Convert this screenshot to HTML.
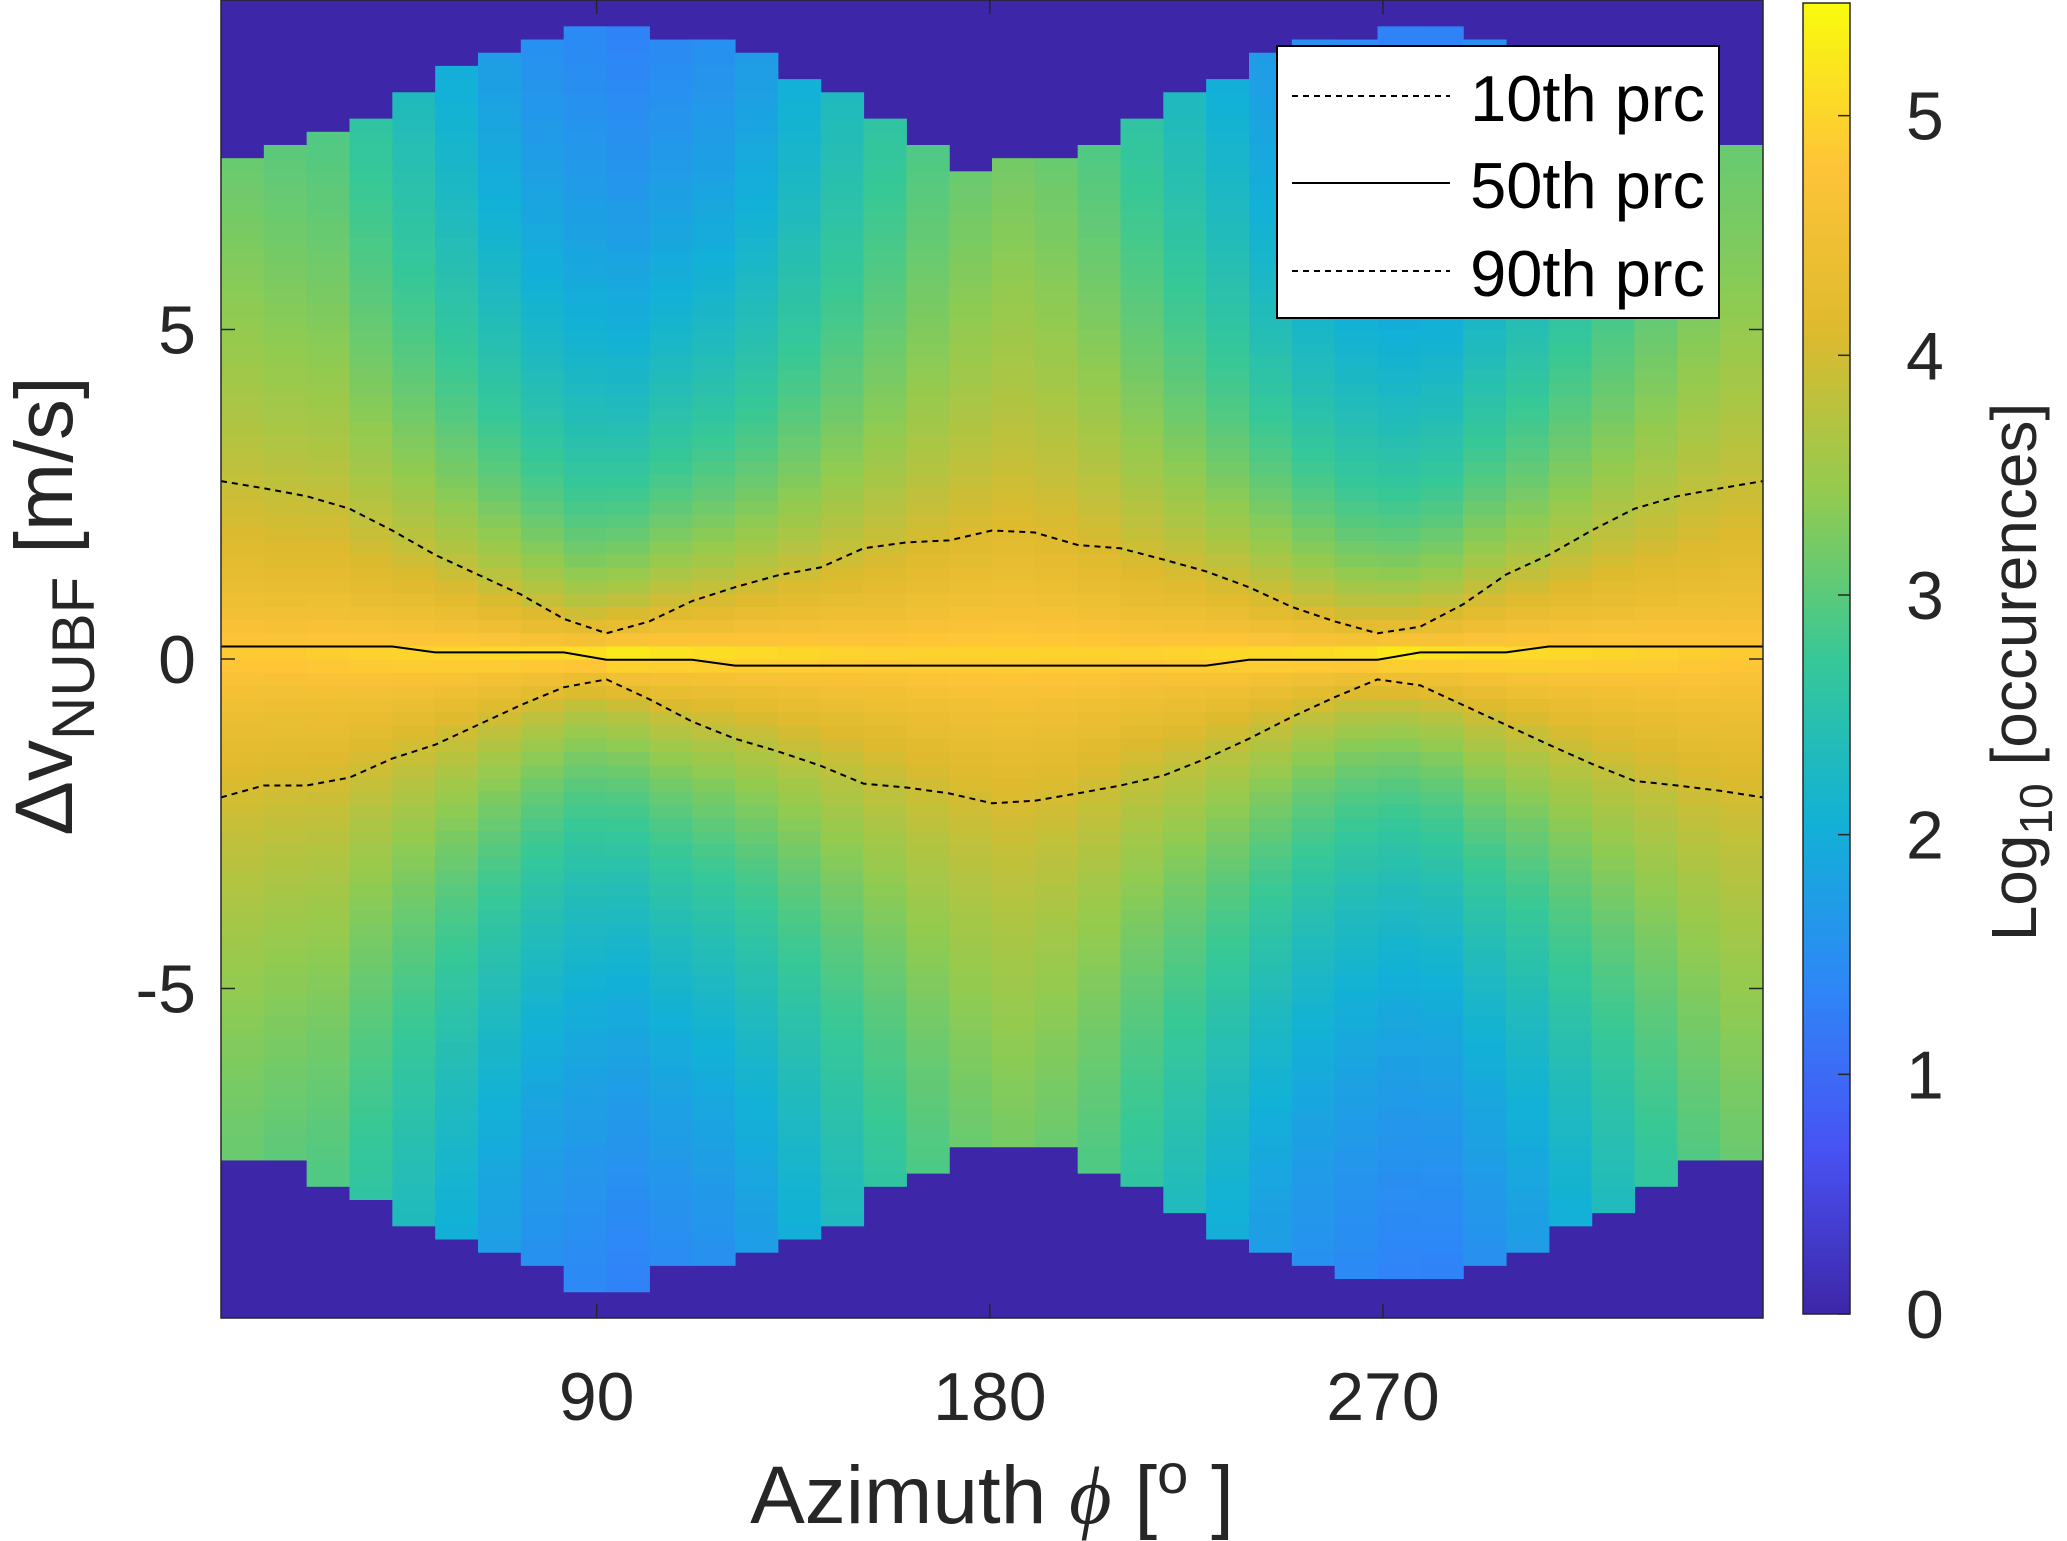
<!DOCTYPE html>
<html><head><meta charset="utf-8"><style>
html,body{margin:0;padding:0;background:#fff;}
svg{display:block;font-family:"Liberation Sans",Arial,sans-serif;}
</style></head><body>
<svg id="chart" width="2067" height="1541" viewBox="0 0 2067 1541" xmlns="http://www.w3.org/2000/svg">
<defs><linearGradient id="cbgrad" x1="0" y1="1" x2="0" y2="0"></linearGradient>
<clipPath id="plotclip"><rect x="221" y="0" width="1542" height="1318"/></clipPath></defs>
<g id="cells" clip-path="url(#plotclip)"></g>
<g id="lines" clip-path="url(#plotclip)"></g>
<rect x="221" y="0" width="1542" height="1318" fill="none" stroke="#262626" stroke-width="1.5"/>
<g id="axes"></g>
<g>
<rect x="1277" y="46" width="442" height="272" fill="#fff" stroke="#000" stroke-width="2"/>
<line x1="1292" y1="96" x2="1450" y2="96" stroke="#000" stroke-width="2" stroke-dasharray="6,5"/>
<text x="1705" y="121" font-size="65" text-anchor="end" fill="#000">10th prc</text>
<line x1="1292" y1="183" x2="1450" y2="183" stroke="#000" stroke-width="2"/>
<text x="1705" y="208" font-size="65" text-anchor="end" fill="#000">50th prc</text>
<line x1="1292" y1="271" x2="1450" y2="271" stroke="#000" stroke-width="2" stroke-dasharray="6,5"/>
<text x="1705" y="296" font-size="65" text-anchor="end" fill="#000">90th prc</text>
</g>
<rect x="1803" y="3" width="47" height="1311" fill="url(#cbgrad)" stroke="#262626" stroke-width="1.5"/>
<g id="cbaxis"></g>
<text x="992" y="1523" font-size="82" text-anchor="middle" fill="#262626">Azimuth <tspan font-family="Liberation Serif,serif" font-style="italic">ϕ</tspan> [<tspan font-size="56" dy="-30">o</tspan><tspan dy="30"> ]</tspan></text>
<text transform="translate(72,606) rotate(-90)" font-size="82" text-anchor="middle" fill="#262626">Δv<tspan font-size="60" dy="22">NUBF</tspan><tspan dy="-22"> [m/s]</tspan></text>
<text transform="translate(2036,672) rotate(-90)" font-size="64" text-anchor="middle" fill="#262626">Log<tspan font-size="46" dy="16">10</tspan><tspan dy="-16"> [occurences]</tspan></text>
</svg>
<script>
// ---- data ----
const upperExtent = [7.62,7.76,8.09,8.29,8.69,8.91,9.28,9.37,9.55,9.58,9.48,9.33,9.11,8.88,8.51,8.18,7.76,7.5,7.54,7.65,7.88,8.18,8.51,8.8,9.18,9.4,9.48,9.58,9.52,9.33,9.08,8.8,8.5,8.2,7.9,7.76];
const lowerExtent = [-7.51,-7.7,-8.0,-8.21,-8.6,-8.9,-9.1,-9.3,-9.52,-9.52,-9.3,-9.22,-9.08,-8.8,-8.55,-8.1,-7.73,-7.47,-7.44,-7.4,-7.76,-8.1,-8.48,-8.8,-9.08,-9.25,-9.37,-9.49,-9.49,-9.22,-9.0,-8.7,-8.33,-7.96,-7.66,-7.7];
const centerLog = [4.9,4.9,4.95,5.0,5.05,5.1,5.15,5.2,5.3,5.45,5.3,5.2,5.15,5.1,5.05,5.0,5.0,5.0,5.0,5.0,5.0,5.0,5.05,5.1,5.15,5.2,5.3,5.45,5.3,5.2,5.15,5.1,5.05,5.0,4.95,4.9];
const edgeLog = [3.1,3.0,2.9,2.6,2.3,2.0,1.7,1.5,1.4,1.3,1.4,1.5,1.7,2.0,2.3,2.6,2.9,3.1,3.2,3.1,2.9,2.6,2.3,2.0,1.7,1.5,1.4,1.3,1.3,1.5,1.7,2.0,2.3,2.6,2.9,3.1];
const p90 = [2.70,2.59,2.47,2.28,1.95,1.58,1.28,0.98,0.61,0.39,0.57,0.88,1.09,1.27,1.39,1.68,1.77,1.80,1.95,1.92,1.73,1.68,1.51,1.33,1.09,0.79,0.57,0.39,0.49,0.83,1.28,1.58,1.95,2.28,2.47,2.59,2.70];
const p50 = [0.19,0.19,0.19,0.19,0.19,0.10,0.10,0.10,0.10,-0.01,-0.01,-0.01,-0.10,-0.10,-0.10,-0.10,-0.10,-0.10,-0.10,-0.10,-0.10,-0.10,-0.10,-0.10,-0.01,-0.01,-0.01,-0.01,0.10,0.10,0.10,0.19,0.19,0.19,0.19,0.19,0.19];
const p10 = [-2.10,-1.92,-1.92,-1.80,-1.51,-1.30,-1.00,-0.70,-0.43,-0.31,-0.61,-0.95,-1.21,-1.40,-1.62,-1.89,-1.95,-2.04,-2.19,-2.15,-2.04,-1.92,-1.77,-1.51,-1.21,-0.88,-0.58,-0.31,-0.40,-0.70,-1.00,-1.30,-1.59,-1.85,-1.92,-2.00,-2.10];
const xTicks = [90,180,270];
const yTicks = [-5,0,5];
const cbTicks = [0,1,2,3,4,5];
// ---- scales ----
const X0=221,X1=1763,Y0=0,Y1=1318, XMIN=4, XMAX=357, YMIN=-10, YMAX=10, CMAX=5.47;
const xs = d => X0 + (d-XMIN)*(X1-X0)/(XMAX-XMIN);
const ys = v => Y0 + (YMAX-v)*(Y1-Y0)/(YMAX-YMIN);
const binW = (XMAX-XMIN)/upperExtent.length;
const parula = [[0,62,38,168],[0.125,72,82,244],[0.25,46,135,247],[0.375,18,177,214],[0.5,55,200,151],[0.625,146,203,80],[0.75,222,186,46],[0.875,254,196,56],[1,249,251,14]];
function cmap(v){let t=Math.max(0,Math.min(1,v/CMAX));for(let i=1;i<parula.length;i++){if(t<=parula[i][0]){const a=parula[i-1],b=parula[i],f=(t-a[0])/(b[0]-a[0]);return `rgb(${Math.round(a[1]+f*(b[1]-a[1]))},${Math.round(a[2]+f*(b[2]-a[2]))},${Math.round(a[3]+f*(b[3]-a[3]))})`;}}return 'rgb(249,251,14)';}
const NS='http://www.w3.org/2000/svg';
function mk(tag,attrs,parent){const e=document.createElementNS(NS,tag);for(const k in attrs)e.setAttribute(k,attrs[k]);parent.appendChild(e);return e;}
const grad=document.getElementById('cbgrad');
parula.forEach(p=>{mk('stop',{offset:p[0],'stop-color':`rgb(${p[1]},${p[2]},${p[3]})`},grad);});
const cells=document.getElementById('cells');
const bg=mk('rect',{x:X0,y:Y0,width:X1-X0,height:Y1-Y0,fill:cmap(0)},cells);


const dy=0.2;
for(let c=0;c<upperExtent.length;c++){
  const spread=(p90[c]-p10[c]+p90[c+1]-p10[c+1])/4;
  const w=Math.max(0.15,spread*0.6);
  const ext=Math.max(upperExtent[c],-lowerExtent[c]);
  const k=(centerLog[c]-edgeLog[c])/Math.log(1+ext/w);
  const xa=xs(XMIN+c*binW), xb=xs(XMIN+(c+1)*binW);
  for(let v=YMIN; v<YMAX-1e-9; v+=dy){
    const mid=v+dy/2;
    if(mid>upperExtent[c]||mid<lowerExtent[c]) continue;
    const d=Math.abs(mid-0.05);
    const val=centerLog[c]-k*Math.log(1+d/w);
    const r=mk('rect',{x:xa.toFixed(2),y:ys(v+dy).toFixed(2),width:(xb-xa+0.6).toFixed(2),height:(ys(v)-ys(v+dy)+0.6).toFixed(2),fill:cmap(val)},cells);
    
    
  }
}
const lines=document.getElementById('lines');
function poly(arr,name,dash){
  const pts=arr.map((v,i)=>xs(XMIN+i*binW).toFixed(1)+','+ys(v).toFixed(1)).join(' ');
  const p=mk('polyline',{points:pts,fill:'none',stroke:'#000','stroke-width':2},lines);
  if(dash)p.setAttribute('stroke-dasharray','6,5');
  
  
}
poly(p90,'line-90th-percentile',true);
poly(p50,'line-50th-percentile',false);
poly(p10,'line-10th-percentile',true);
const axes=document.getElementById('axes');
xTicks.forEach(t=>{
  mk('line',{x1:xs(t),y1:Y1,x2:xs(t),y2:Y1-14,stroke:'#262626','stroke-width':1.5},axes);
  mk('line',{x1:xs(t),y1:Y0,x2:xs(t),y2:Y0+14,stroke:'#262626','stroke-width':1.5},axes);
  const tx=mk('text',{x:xs(t),y:1420,'font-size':68,'text-anchor':'middle',fill:'#262626'},axes);
  tx.textContent=t;
  
  
});
yTicks.forEach(t=>{
  mk('line',{x1:X0,y1:ys(t),x2:X0+14,y2:ys(t),stroke:'#262626','stroke-width':1.5},axes);
  mk('line',{x1:X1,y1:ys(t),x2:X1-14,y2:ys(t),stroke:'#262626','stroke-width':1.5},axes);
  const tx=mk('text',{x:196,y:ys(t)+24,'font-size':68,'text-anchor':'end',fill:'#262626'},axes);
  tx.textContent=t;
  
  
});
const cb=document.getElementById('cbaxis');
const cy=v=>1314-v*(1314-3)/CMAX;
cbTicks.forEach(t=>{
  mk('line',{x1:1850,y1:cy(t),x2:1838,y2:cy(t),stroke:'#262626','stroke-width':1.5},cb);
  const tx=mk('text',{x:1906,y:cy(t)+24,'font-size':68,fill:'#262626'},cb);
  tx.textContent=t;
  
  
});
</script>
</body></html>
